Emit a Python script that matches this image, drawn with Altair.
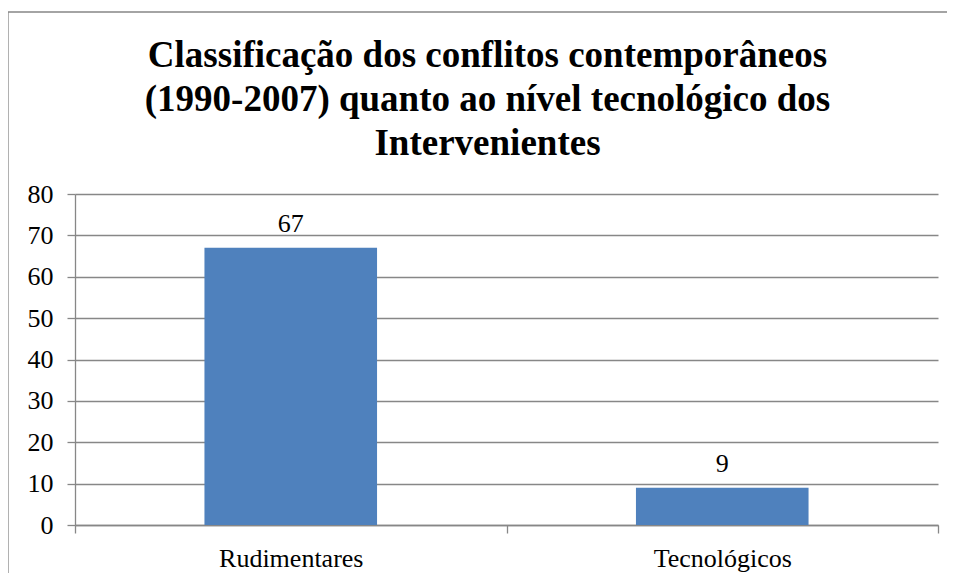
import altair as alt
import pandas as pd

categories = ["Rudimentares", "Tecnológicos"]
values = [67, 9]
title_lines = [
    "Classificação dos conflitos contemporâneos",
    "(1990-2007) quanto ao nível tecnológico dos",
    "Intervenientes",
]
y_ticks = [0, 10, 20, 30, 40, 50, 60, 70, 80]

df = pd.DataFrame({"cat": categories, "val": values})

FONT = "Liberation Serif"
GRAY = "#878787"

x_enc = alt.X(
    "cat:N",
    sort=categories,
    scale=alt.Scale(paddingInner=0, paddingOuter=0),
    axis=alt.Axis(
        title=None, labelAngle=0, tickBand="extent", domainColor=GRAY, domainWidth=1.3,
        tickColor=GRAY, tickWidth=1.3, tickSize=8, labelFont=FONT, labelFontSize=26,
        labelColor="black", labelPadding=12, grid=False,
    ),
)
y_enc = alt.Y(
    "val:Q",
    scale=alt.Scale(domain=[0, 80], nice=False),
    axis=alt.Axis(
        title=None, values=y_ticks, domainColor=GRAY, domainWidth=1.3, tickColor=GRAY,
        tickWidth=1.3, tickSize=8, gridColor=GRAY, gridWidth=1.3, labelFont=FONT,
        labelFontSize=26, labelColor="black", labelPadding=14,
    ),
)

bars = alt.Chart(df).mark_bar(color="#4F81BD", width=alt.RelativeBandSize(0.4)).encode(x=x_enc, y=y_enc)

labels = alt.Chart(df).mark_text(
    font=FONT, fontSize=26, color="black", baseline="alphabetic", dy=-16
).encode(x=alt.X("cat:N", sort=categories), y="val:Q", text="val:Q")

frame = alt.Chart(alt.Data(values=[{}])).mark_rect(
    fillOpacity=0, stroke=GRAY, strokeWidth=1.3
).encode(x=alt.value(-67), x2=alt.value(950), y=alt.value(-182), y2=alt.value(600))

chart = alt.layer(frame, bars, labels).properties(
    width=863,
    height=331,
    autosize=alt.AutoSizeParams(type="none"),
    padding={"left": 67, "top": 186, "right": 9, "bottom": 48},
    title=alt.TitleParams(
        text=title_lines, font=FONT, fontSize=37, fontWeight="bold", color="black",
        anchor="middle", frame="group", baseline="alphabetic", lineHeight=44,
        dx=-19, offset=-180.6,
    ),
).configure_view(stroke=None)

chart.save("out.html", embed_options={"renderer": "svg", "actions": False})
